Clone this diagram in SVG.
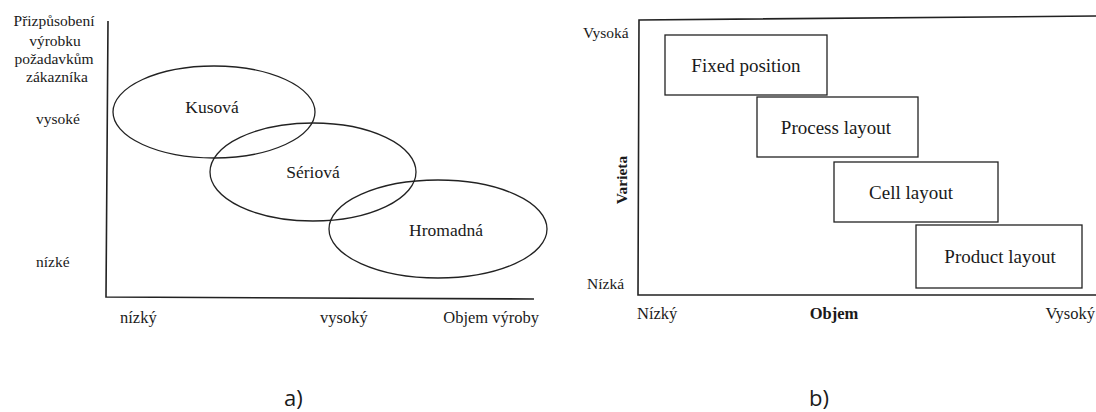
<svg xmlns="http://www.w3.org/2000/svg" width="1096" height="412" viewBox="0 0 1096 412">
<style>
text{font-family:"Liberation Serif","Times New Roman",serif;fill:#1a1a1a}
.ax{stroke:#222;stroke-width:1.6;fill:none}
.el{stroke:#222;stroke-width:1.3;fill:none}
.bx{stroke:#222;stroke-width:1.3;fill:#fff}
.s15{font-size:15.5px}
.s16{font-size:16.5px}
.lbl{font-size:17.5px;text-anchor:middle}
.box{font-size:19px;text-anchor:middle}
.cap{font-family:"Open Sans","Noto Sans",sans-serif;font-size:22px}
</style>
<rect width="1096" height="412" fill="#fff"/>

<!-- Chart a -->
<g id="axes-a">
<path class="ax" d="M108,21 L106,297 L534,299"/>
</g>
<g id="ylabel-a" class="s15" text-anchor="middle">
<text x="54" y="26">Přizpůsobení</text>
<text x="55" y="46">výrobku</text>
<text x="54" y="64">požadavkům</text>
<text x="57" y="82">zákazníka</text>
</g>
<text id="vysoke" class="s15" x="36" y="124">vysoké</text>
<text id="nizke" class="s15" x="36" y="267">nízké</text>
<text id="nizky-a" class="s16" x="120" y="323">nízký</text>
<text id="vysoky-a" class="s16" x="320" y="323">vysoký</text>
<text id="objem-vyroby" class="s16" x="539" y="323" text-anchor="end" font-size="17px">Objem výroby</text>

<g id="kusova">
<ellipse class="el" cx="214" cy="112" rx="101" ry="46"/>
<text class="lbl" x="212" y="113">Kusová</text>
</g>
<g id="seriova">
<ellipse class="el" cx="313" cy="172" rx="103" ry="49"/>
<text class="lbl" x="313" y="178">Sériová</text>
</g>
<g id="hromadna">
<ellipse class="el" cx="438" cy="229" rx="109" ry="49"/>
<text class="lbl" x="446" y="236">Hromadná</text>
</g>

<!-- Chart b -->
<g id="axes-b">
<path class="ax" d="M1096,16 L639,20 L638,295 L1096,295"/>
</g>
<text id="vysoka" class="s15" x="583" y="38">Vysoká</text>
<text id="nizka" class="s15" x="587" y="289">Nízká</text>
<text id="varieta" class="s15" font-weight="bold" text-anchor="middle" transform="translate(627,180) rotate(-90)">Varieta</text>
<text id="nizky-b" class="s16" x="637" y="319">Nízký</text>
<text id="objem" class="s16" x="834" y="319" font-weight="bold" text-anchor="middle">Objem</text>
<text id="vysoky-b" class="s16" x="1095" y="319" text-anchor="end">Vysoký</text>

<g id="fixed-position">
<rect class="bx" x="665" y="35" width="162" height="60"/>
<text class="box" x="746" y="72">Fixed position</text>
</g>
<g id="process-layout">
<rect class="bx" x="757" y="97" width="161" height="60"/>
<text class="box" x="836" y="134">Process layout</text>
</g>
<g id="cell-layout">
<rect class="bx" x="834" y="162" width="164" height="60"/>
<text class="box" x="911" y="199">Cell layout</text>
</g>
<g id="product-layout">
<rect class="bx" x="916" y="225" width="166" height="63"/>
<text class="box" x="1000" y="263">Product layout</text>
</g>

<g id="connectors"></g>

<text id="cap-a" class="cap" x="284" y="406">a)</text>
<text id="cap-b" class="cap" x="809" y="406">b)</text>
</svg>
